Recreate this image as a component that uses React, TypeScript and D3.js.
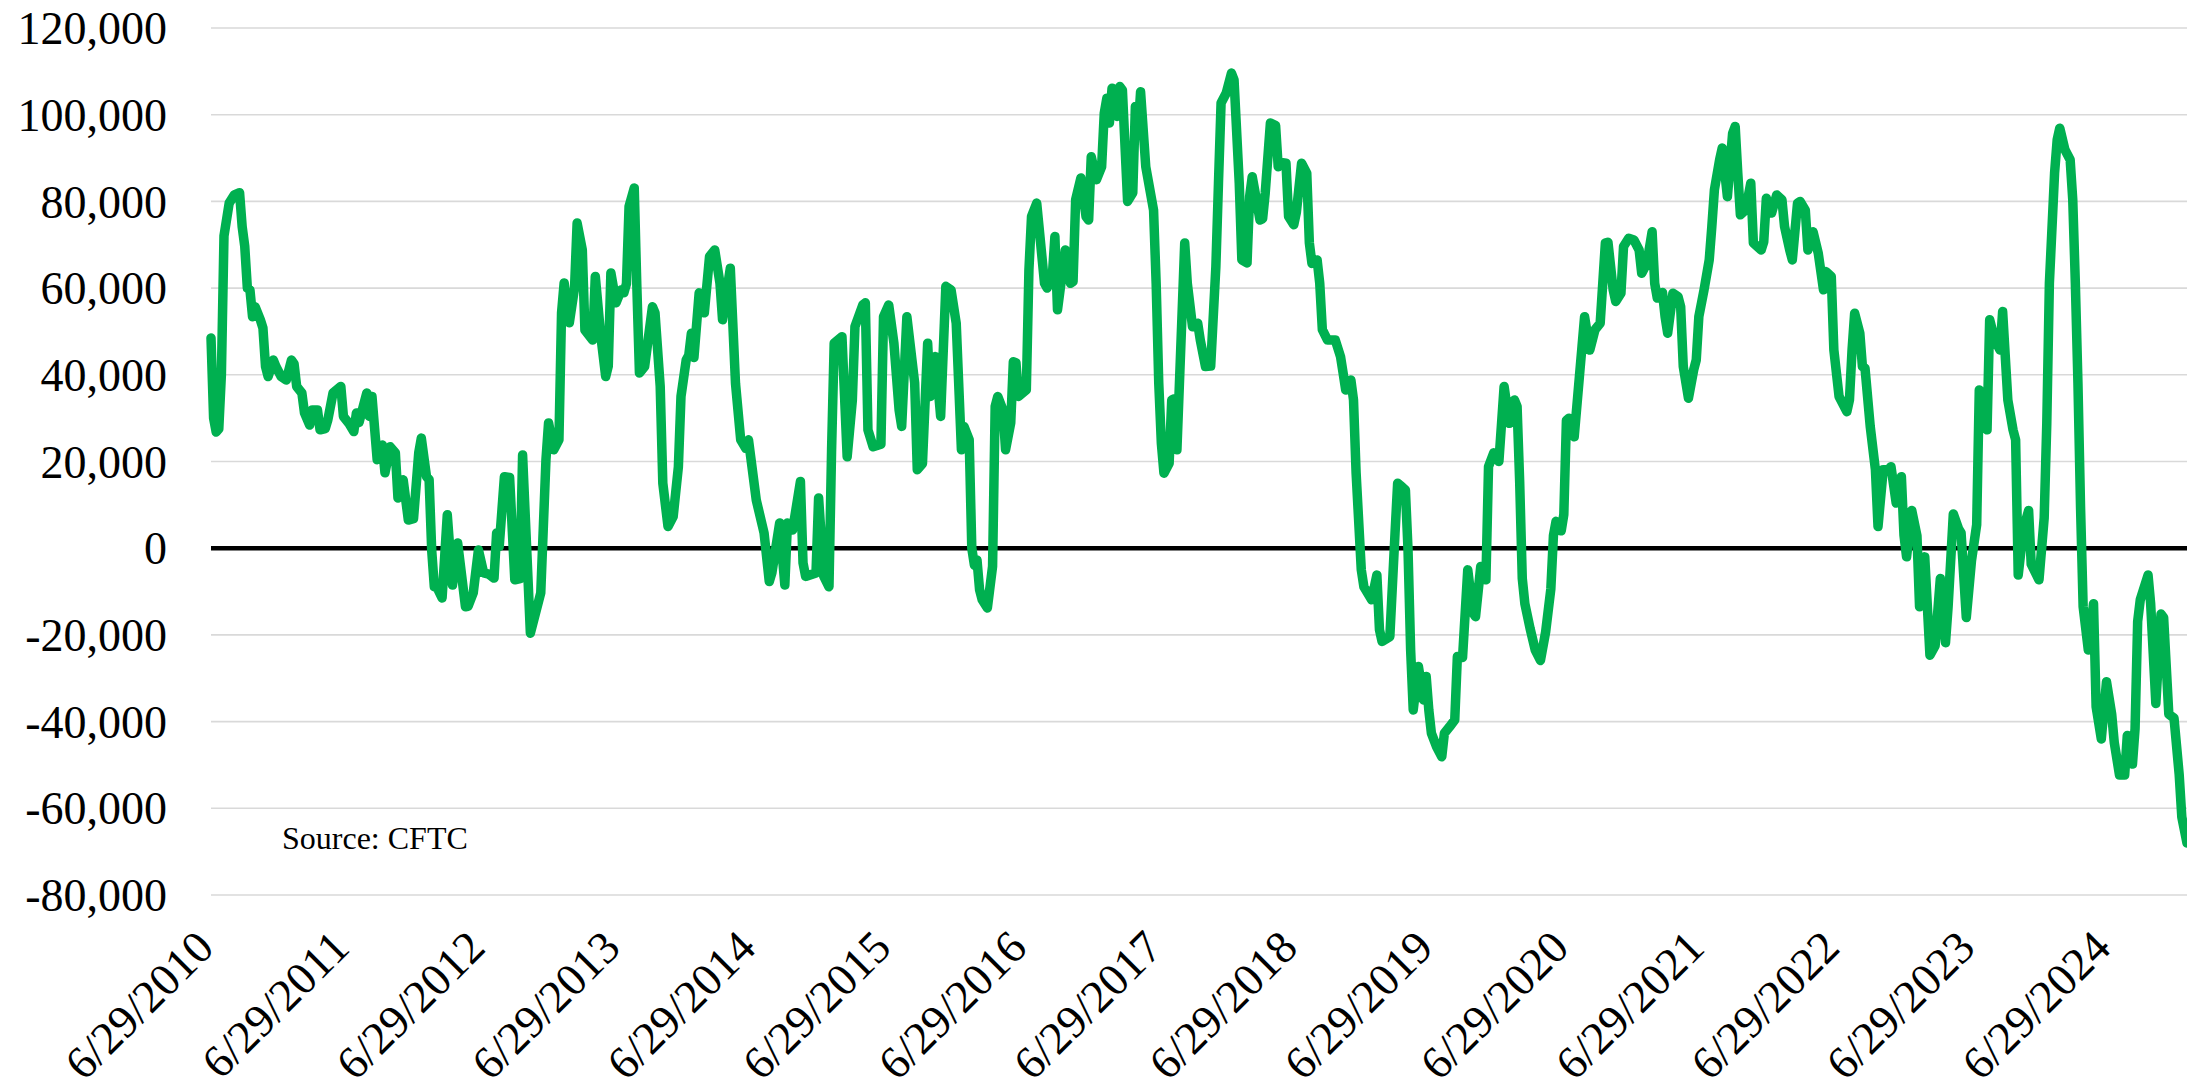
import React, { useRef, useEffect } from "react";
import * as d3 from "d3";

const FIRST_REPORT = "6/29/2010";

const yTicks = [120000, 100000, 80000, 60000, 40000, 20000, 0, -20000, -40000, -60000, -80000];

const xTickLabels = [
  "6/29/2010", "6/29/2011", "6/29/2012", "6/29/2013", "6/29/2014",
  "6/29/2015", "6/29/2016", "6/29/2017", "6/29/2018", "6/29/2019",
  "6/29/2020", "6/29/2021", "6/29/2022", "6/29/2023", "6/29/2024",
];

const SOURCE_NOTE = "Source: CFTC";

// [weeks after first report, net position (contracts)]
const netPosition: [number, number][] = [
  [0, 48500], [1, 30000], [2, 26800], [3, 27500], [4, 40000], [5, 72000], [7, 79600], [9, 81500],
  [11, 82000], [12, 74200], [13, 69600], [14, 60000], [15, 59600], [16, 53400], [17, 55700], [19, 52700],
  [20, 50800], [21, 41900], [22, 39600], [24, 43400], [25, 41900], [27, 39600], [29, 38800], [31, 43400],
  [32, 42500], [33, 37300], [35, 35800], [36, 31200], [38, 28400], [39, 31900], [41, 31900], [42, 27300],
  [44, 27600], [45, 29600], [47, 35800], [50, 37300], [51, 30400], [53, 28900], [55, 26900], [56, 31200],
  [57, 29000], [60, 35800], [61, 30400], [62, 35000], [64, 20400], [66, 23800], [67, 17400], [69, 23400],
  [71, 22000], [72, 11600], [74, 15800], [76, 6500], [78, 6800], [80, 22000], [81, 25400], [83, 16500],
  [84, 15800], [85, -500], [86, -8900], [87, -9000], [89, -11500], [91, 7700], [93, -8500], [95, 1200],
  [98, -13500], [99, -13400], [101, -10300], [103, -400], [105, -5700], [107, -6000], [109, -6900], [110, 3500],
  [111, 400], [113, 16500], [115, 16300], [117, -7300], [119, -7000], [120, 21500], [123, -19600], [127, -10300],
  [129, 20400], [130, 28900], [132, 22700], [134, 25000], [135, 54300], [136, 61200], [138, 52000], [140, 60000],
  [141, 75000], [143, 68800], [144, 50300], [147, 48000], [148, 62700], [150, 49600], [152, 39600], [153, 42000],
  [154, 63500], [156, 56600], [158, 59600], [159, 58900], [160, 61000], [161, 78800], [163, 83100], [164, 60400],
  [165, 40400], [167, 41900], [170, 55700], [171, 54300], [173, 37300], [174, 15000], [176, 5000], [178, 7300],
  [180, 18800], [181, 35000], [183, 43400], [184, 44500], [185, 49600], [186, 44000], [188, 58900], [190, 54300],
  [192, 67300], [194, 68800], [196, 61200], [197, 52700], [200, 64600], [202, 38000], [204, 25000], [206, 23000],
  [207, 25000], [210, 11100], [213, 3500], [215, -7700], [216, -5700], [219, 5800], [221, -8500], [222, 5800],
  [224, 4200], [227, 15400], [228, -3400], [229, -6500], [233, -5700], [234, 11600], [236, -6500], [238, -8900],
  [239, 22700], [240, 47300], [243, 48800], [245, 21100], [247, 34200], [248, 51100], [251, 56100], [252, 56600],
  [253, 27300], [255, 23400], [258, 24000], [259, 53400], [261, 56100], [263, 47300], [265, 31900], [266, 28100],
  [268, 53400], [271, 38100], [272, 18100], [274, 19500], [276, 47300], [277, 35000], [279, 44200], [281, 30400],
  [283, 60400], [285, 59600], [287, 51900], [289, 22700], [290, 28100], [292, 25000], [293, 0], [294, -3900],
  [295, -2700], [296, -9600], [297, -11900], [299, -13800], [301, -4200], [302, 32700], [303, 35000], [305, 31900],
  [306, 22700], [308, 28900], [309, 43000], [310, 42800], [311, 35000], [314, 36500], [315, 64200], [316, 76500],
  [318, 79600], [320, 67300], [321, 61100], [322, 60000], [324, 62700], [325, 71900], [326, 55000], [329, 68800],
  [331, 61100], [332, 61500], [333, 80400], [335, 85400], [337, 76500], [338, 75700], [339, 90300], [341, 85000],
  [343, 88000], [344, 100300], [345, 103800], [346, 98100], [347, 106100], [349, 99600], [350, 106500], [351, 105700],
  [353, 80000], [355, 82000], [356, 101900], [357, 96000], [358, 105300], [360, 88000], [363, 78000], [364, 61100],
  [365, 38100], [366, 24200], [367, 17300], [369, 19600], [370, 34200], [371, 34500], [372, 22700], [375, 70400],
  [376, 61100], [378, 51100], [380, 51900], [381, 48000], [383, 41900], [385, 42000], [387, 65000], [388, 84200],
  [389, 102700], [391, 105000], [393, 109600], [394, 108000], [396, 84200], [397, 66500], [399, 65800], [400, 81100],
  [401, 85700], [404, 75700], [405, 76000], [406, 81900], [408, 98100], [410, 97500], [411, 88000], [412, 89000],
  [414, 88800], [415, 76500], [417, 74600], [418, 77500], [420, 88800], [422, 86500], [423, 70400], [424, 65700],
  [426, 66500], [427, 61100], [428, 50400], [430, 48000], [433, 48000], [435, 44200], [436, 40400], [437, 36500],
  [439, 38800], [440, 34200], [441, 17400], [443, -5000], [444, -8900], [447, -11900], [449, -6200], [450, -18800],
  [451, -21500], [454, -20400], [456, 3500], [457, 15000], [458, 14500], [460, 13400], [461, -400], [462, -23400],
  [463, -37300], [465, -27300], [467, -35000], [468, -29600], [469, -37300], [470, -42700], [472, -45800], [474, -48100],
  [475, -42700], [477, -41200], [479, -39600], [480, -25000], [482, -25200], [484, -5000], [486, -14900], [487, -15800],
  [489, -4200], [491, -7300], [492, 18800], [494, 22000], [496, 20000], [498, 37300], [500, 28800], [502, 34200],
  [503, 32700], [504, 15300], [505, -7000], [506, -12800], [508, -18500], [510, -23500], [512, -25900], [514, -19300],
  [516, -9400], [517, 2900], [518, 6200], [520, 4000], [521, 7800], [522, 29500], [523, 30000], [525, 25700],
  [527, 39600], [528, 46500], [529, 53400], [531, 45700], [533, 50400], [535, 51900], [537, 70400], [538, 70600],
  [540, 59600], [541, 56900], [543, 58800], [544, 69600], [546, 71500], [548, 71100], [550, 68800], [551, 63400],
  [553, 65700], [555, 73000], [556, 61100], [557, 57700], [559, 59000], [560, 53400], [561, 49600], [563, 58800],
  [565, 58000], [566, 55700], [567, 41900], [569, 34600], [571, 41100], [572, 43400], [573, 53400], [575, 59600],
  [577, 66500], [578, 74200], [579, 82700], [581, 89600], [582, 92300], [584, 81100], [586, 95700], [587, 97300],
  [588, 86500], [589, 76900], [591, 78000], [593, 84200], [594, 70400], [597, 68800], [598, 70700], [599, 80700],
  [601, 77300], [603, 81500], [605, 80400], [606, 74200], [608, 68800], [609, 66500], [611, 79600], [612, 80000],
  [614, 78000], [615, 68800], [617, 73000], [619, 68000], [621, 59600], [622, 63800], [624, 62700], [625, 45700],
  [627, 35000], [630, 31500], [631, 34200], [632, 45700], [633, 54200], [635, 49600], [636, 41900], [637, 41500],
  [639, 28100], [641, 18100], [642, 5000], [644, 18100], [646, 18100], [647, 18800], [649, 10400], [651, 16500],
  [652, 3000], [653, -2000], [655, 8700], [657, 2900], [658, -13500], [660, -2000], [662, -24700], [664, -22500],
  [666, -7000], [668, -21800], [669, -13500], [671, 7900], [673, 4500], [674, 3500], [676, -16000], [678, -2900],
  [680, 5400], [681, 36500], [682, 34200], [684, 27300], [685, 52700], [687, 48000], [689, 45700], [690, 54600],
  [692, 34200], [694, 27300], [695, 25000], [696, -6200], [698, 4500], [700, 8700], [701, -3700], [704, -7300],
  [706, 7000], [707, 28800], [708, 61100], [710, 86500], [711, 94200], [712, 96900], [714, 91900], [716, 89600],
  [717, 80400], [718, 61100], [719, 38100], [720, 9500], [721, -13500], [723, -23500], [725, -12800], [726, -36600],
  [728, -44000], [730, -30800], [732, -38300], [733, -44900], [735, -52300], [737, -52300], [738, -43200], [740, -49800],
  [741, -41600], [742, -16900], [743, -11900], [746, -6200], [747, -12800], [749, -35800], [751, -15200], [752, -16000],
  [754, -38300], [756, -39200], [758, -52300], [759, -62000], [761, -68000],
];

function NetPositionChart() {
  const svgRef = useRef<SVGSVGElement>(null);

  useEffect(() => {
    document.body.style.margin = "0";
    const svg = d3.select(svgRef.current);
    svg.selectAll("*").remove();

    const width = 2187;
    const height = 1092;
    const margin = { left: 211, right: 0, top: 28, bottom: 197 };
    const font = "'Liberation Serif', 'Times New Roman', serif";

    const parse = d3.timeParse("%m/%d/%Y");
    const start = parse(FIRST_REPORT) as Date;
    const toDate = (w: number) => d3.timeDay.offset(start, w * 7);
    const lastWeek = netPosition[netPosition.length - 1][0];

    const x = d3
      .scaleTime()
      .domain([start, toDate(lastWeek)])
      .range([margin.left, width - margin.right]);

    const y = d3
      .scaleLinear()
      .domain([-80000, 120000])
      .range([height - margin.bottom, margin.top]);

    // excel style: plain hyphen for negatives
    const fmt = d3.formatLocale({ decimal: ".", thousands: ",", grouping: [3], currency: ["", ""], minus: "-" }).format(",");

    // grid
    svg
      .append("g")
      .selectAll("line")
      .data(yTicks.filter((d) => d !== 0))
      .join("line")
      .attr("x1", margin.left)
      .attr("x2", width - margin.right)
      .attr("y1", (d) => y(d))
      .attr("y2", (d) => y(d))
      .attr("stroke", "#d9d9d9")
      .attr("stroke-width", 1.6);

    // y labels
    svg
      .append("g")
      .attr("transform", `translate(167,0)`)
      .call(d3.axisLeft(y).tickValues(yTicks).tickSize(0).tickPadding(0).tickFormat((d) => fmt(d as number)))
      .call((g) => g.select(".domain").remove())
      .call((g) =>
        g
          .selectAll("text")
          .attr("font-family", font)
          .attr("font-size", 46)
          .attr("fill", "#000")
          .attr("dy", "0.34em")
      );

    // zero line
    svg
      .append("line")
      .attr("x1", margin.left)
      .attr("x2", width - margin.right)
      .attr("y1", y(0))
      .attr("y2", y(0))
      .attr("stroke", "#000")
      .attr("stroke-width", 4.5);

    // x labels
    svg
      .append("g")
      .selectAll("text")
      .data(xTickLabels)
      .join("text")
      .attr("transform", (d) => `translate(${x(parse(d) as Date) + 5},950) rotate(-45)`)
      .attr("text-anchor", "end")
      .attr("font-family", font)
      .attr("font-size", 46)
      .attr("fill", "#000")
      .text((d) => d);

    const line = d3
      .line<[number, number]>()
      .x((d) => x(toDate(d[0])))
      .y((d) => y(d[1]));

    svg
      .append("path")
      .attr("d", line(netPosition))
      .attr("fill", "none")
      .attr("stroke", "#00b050")
      .attr("stroke-width", 9.5)
      .attr("stroke-linejoin", "round")
      .attr("stroke-linecap", "round");

    svg
      .append("text")
      .attr("x", 282)
      .attr("y", 849)
      .attr("font-family", font)
      .attr("font-size", 32)
      .attr("fill", "#000")
      .text(SOURCE_NOTE);
  }, []);

  return (
    <svg
      ref={svgRef}
      width={2187}
      height={1092}
      style={{ position: "absolute", left: 0, top: 0, background: "#fff" }}
    ></svg>
  );
}

export default function App() {
  return <NetPositionChart />;
}
